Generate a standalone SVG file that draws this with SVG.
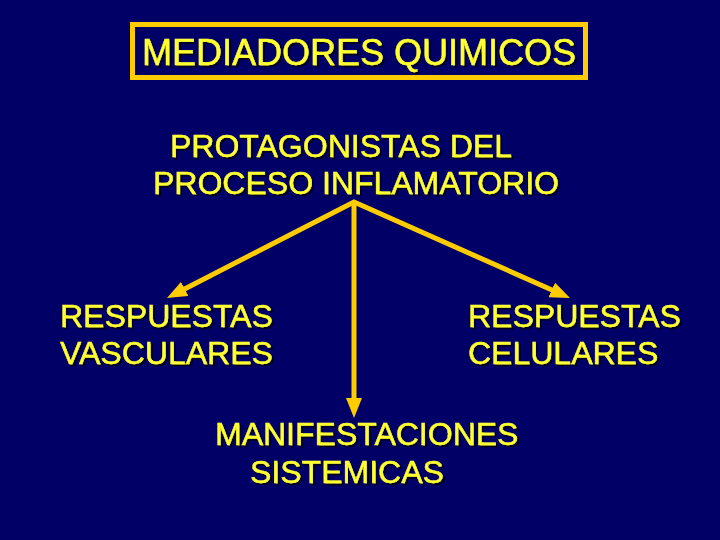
<svg xmlns="http://www.w3.org/2000/svg" width="720" height="540" viewBox="0 0 720 540">
<style>
.t{font-family:"Liberation Sans",Arial,sans-serif;font-size:32px;fill:#FFFF33;stroke:#FFFF33;stroke-width:0.4;filter:url(#sh)}
.title{font-size:36px}
.c{fill:none;stroke:#FFCC00;stroke-width:5;stroke-linejoin:miter}
</style>
<defs>
<filter id="sh" x="-5%" y="-20%" width="110%" height="140%">
<feOffset in="SourceAlpha" dx="2" dy="2" result="o"/>
<feFlood flood-color="#000022"/>
<feComposite in2="o" operator="in" result="d"/>
<feMerge><feMergeNode in="d"/><feMergeNode in="SourceGraphic"/></feMerge>
</filter>
<marker id="ah" viewBox="0 0 10 8" refX="2" refY="4" markerWidth="4" markerHeight="3.2" orient="auto-start-reverse" markerUnits="strokeWidth">
<path d="M0,0 L10,4 L0,8 z" fill="#FFCC00"/>
</marker>
</defs>
<rect width="720" height="540" fill="#000066"/>
<g id="title">
<rect x="132.5" y="24.5" width="453" height="53" fill="none" stroke="#FFCC00" stroke-width="5"/>
<text class="t title" x="142" y="65">MEDIADORES QUIMICOS</text>
</g>
<g id="protagonistas">
<text class="t" x="170" y="157">PROTAGONISTAS DEL</text>
<text class="t" x="153" y="194">PROCESO INFLAMATORIO</text>
</g>
<g id="vasculares">
<text class="t" x="60" y="327">RESPUESTAS</text>
<text class="t" x="60" y="364">VASCULARES</text>
</g>
<g id="celulares">
<text class="t" x="468" y="327">RESPUESTAS</text>
<text class="t" x="468" y="364">CELULARES</text>
</g>
<g id="sistemicas">
<text class="t" x="215" y="445">MANIFESTACIONES</text>
<text class="t" x="250" y="483">SISTEMICAS</text>
</g>
<g id="connectors">
<path class="c" d="M181.2,290.7 L354,202 L555.4,291.5" marker-start="url(#ah)" marker-end="url(#ah)"/>
<path class="c" d="M354,202 L354,402" marker-end="url(#ah)"/>
</g>
</svg>
